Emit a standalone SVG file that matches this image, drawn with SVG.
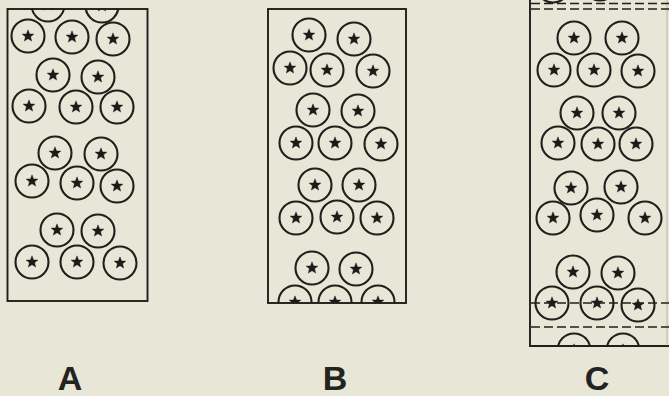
<svg xmlns="http://www.w3.org/2000/svg" xmlns:xlink="http://www.w3.org/1999/xlink" width="669" height="396" viewBox="0 0 669 396">
<style>
.frame{fill:none;stroke:#1f1f1b;stroke-width:1.9}
.dash{fill:none;stroke:#1f1f1b;stroke-width:1.7;stroke-dasharray:9 4}
.lbl{font-family:"Liberation Sans","DejaVu Sans",sans-serif;font-weight:bold;font-size:34px;fill:#23231f;text-anchor:middle}
</style>
<defs>
<g id="cell">
<circle r="16.5" fill="none" stroke="#1f1f1b" stroke-width="2.1"/>
<polygon points="0,-6.2 1.6,-2.1 5.9,-1.9 2.6,0.8 3.7,5.1 0,2.7 -3.7,5.1 -2.6,0.8 -5.9,-1.9 -1.6,-2.1" fill="#1a1a16" stroke="#1a1a16" stroke-width="0.4" stroke-linejoin="round"/>
</g>
<clipPath id="clipA"><rect x="7.5" y="9" width="140" height="292"/></clipPath>
<clipPath id="clipB"><rect x="268" y="9" width="138" height="294"/></clipPath>
<clipPath id="clipC"><rect x="530" y="0" width="139" height="346"/></clipPath>
</defs>
<rect width="669" height="396" fill="#e8e6d7"/>

<g id="panelA">
<g clip-path="url(#clipA)">
<use xlink:href="#cell" x="48" y="5"/>
<use xlink:href="#cell" x="102" y="6"/>
<use xlink:href="#cell" x="28" y="36"/>
<use xlink:href="#cell" x="72" y="37"/>
<use xlink:href="#cell" x="113" y="39"/>
<use xlink:href="#cell" x="53" y="75"/>
<use xlink:href="#cell" x="98" y="77"/>
<use xlink:href="#cell" x="29" y="106"/>
<use xlink:href="#cell" x="76" y="107"/>
<use xlink:href="#cell" x="117" y="107"/>
<use xlink:href="#cell" x="55" y="153"/>
<use xlink:href="#cell" x="101" y="154"/>
<use xlink:href="#cell" x="32" y="181"/>
<use xlink:href="#cell" x="77" y="183"/>
<use xlink:href="#cell" x="117" y="186"/>
<use xlink:href="#cell" x="57" y="230"/>
<use xlink:href="#cell" x="98" y="231"/>
<use xlink:href="#cell" x="32" y="262"/>
<use xlink:href="#cell" x="77" y="262"/>
<use xlink:href="#cell" x="120" y="263"/>
</g>
<rect class="frame" x="7.5" y="9" width="140" height="292"/>
</g>

<g id="panelB">
<g clip-path="url(#clipB)">
<use xlink:href="#cell" x="309" y="35"/>
<use xlink:href="#cell" x="354" y="39"/>
<use xlink:href="#cell" x="290" y="68"/>
<use xlink:href="#cell" x="327" y="70"/>
<use xlink:href="#cell" x="373" y="71"/>
<use xlink:href="#cell" x="313" y="110"/>
<use xlink:href="#cell" x="358" y="111"/>
<use xlink:href="#cell" x="296" y="143"/>
<use xlink:href="#cell" x="335" y="143"/>
<use xlink:href="#cell" x="381" y="144"/>
<use xlink:href="#cell" x="315" y="185"/>
<use xlink:href="#cell" x="359" y="185"/>
<use xlink:href="#cell" x="296" y="218"/>
<use xlink:href="#cell" x="337" y="217"/>
<use xlink:href="#cell" x="377" y="218"/>
<use xlink:href="#cell" x="312" y="268"/>
<use xlink:href="#cell" x="356" y="269"/>
<use xlink:href="#cell" x="295" y="302"/>
<use xlink:href="#cell" x="335" y="302"/>
<use xlink:href="#cell" x="378" y="302"/>
</g>
<rect class="frame" x="268" y="9" width="138" height="294"/>
</g>

<g id="panelC">
<g clip-path="url(#clipC)">
<use xlink:href="#cell" x="553" y="-14"/>
<use xlink:href="#cell" x="600" y="-16"/>
<use xlink:href="#cell" x="574" y="38"/>
<use xlink:href="#cell" x="622" y="38"/>
<use xlink:href="#cell" x="554" y="70"/>
<use xlink:href="#cell" x="594" y="70"/>
<use xlink:href="#cell" x="638" y="71"/>
<use xlink:href="#cell" x="577" y="113"/>
<use xlink:href="#cell" x="619" y="113"/>
<use xlink:href="#cell" x="558" y="143"/>
<use xlink:href="#cell" x="598" y="144"/>
<use xlink:href="#cell" x="636" y="144"/>
<use xlink:href="#cell" x="571" y="188"/>
<use xlink:href="#cell" x="621" y="187"/>
<use xlink:href="#cell" x="553" y="218"/>
<use xlink:href="#cell" x="597" y="215"/>
<use xlink:href="#cell" x="645" y="218"/>
<use xlink:href="#cell" x="573" y="272"/>
<use xlink:href="#cell" x="618" y="273"/>
<use xlink:href="#cell" x="552" y="303"/>
<use xlink:href="#cell" x="597" y="303"/>
<use xlink:href="#cell" x="638" y="305"/>
<use xlink:href="#cell" x="574" y="350"/>
<use xlink:href="#cell" x="623" y="350"/>
</g>
<path class="frame" d="M530,0 V346 H669"/>
<line x1="667" y1="0" x2="667" y2="346" stroke="#8a8a80" stroke-width="1" opacity="0.5"/>
<line class="dash" x1="531" y1="3.5" x2="669" y2="3.5"/>
<line class="dash" x1="531" y1="9" x2="669" y2="9"/>
<line class="dash" x1="531" y1="303" x2="669" y2="303"/>
<line class="dash" x1="531" y1="327" x2="669" y2="327"/>
</g>

<g id="labels">
<text class="lbl" x="70" y="390">A</text>
<text class="lbl" x="335" y="390">B</text>
<text class="lbl" x="597" y="390">C</text>
</g>
</svg>
